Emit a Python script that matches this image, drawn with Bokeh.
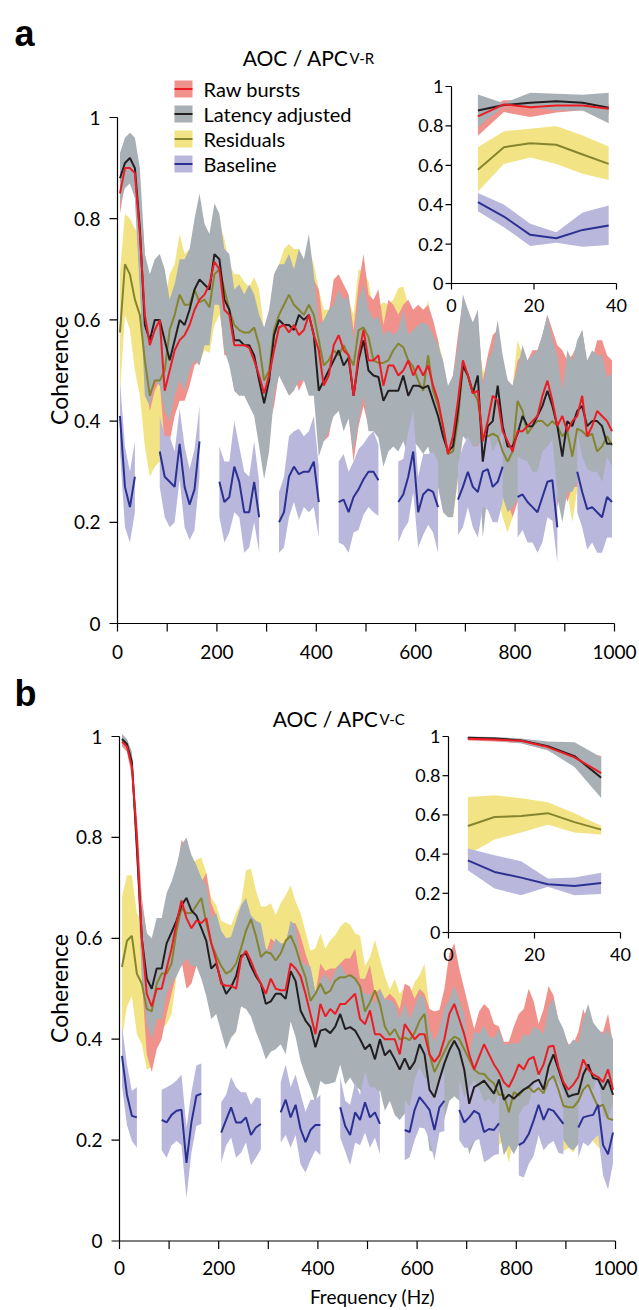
import numpy as np
from bokeh.plotting import figure
from bokeh.layouts import column
from bokeh.models import Range1d, Label
from bokeh.embed import file_html
from bokeh.resources import INLINE
from bokeh.core.properties import value

# ---------------- data ----------------
FREQ = np.arange(5, 1000, 10)  # Hz grid of the spectra

XTICKS = [0, 200, 400, 600, 800, 1000]
XLABELS = ["0", "200", "400", "600", "800", "1000"]
XMINOR = [100, 300, 500, 700, 900]
YTICKS = [0, 0.2, 0.4, 0.6, 0.8, 1]
YLABELS = ["0", "0.2", "0.4", "0.6", "0.8", "1"]
INSET_XTICKS = [0, 20, 40]
INSET_XLABELS = ["0", "20", "40"]

SERIES = ["Raw bursts", "Latency adjusted", "Residuals", "Baseline"]

# ---- panel a : AOC / APC V-R ----
A_RAW = [0.85, 0.90, 0.90, 0.89, 0.77, 0.61, 0.55, 0.58, 0.60, 0.46,
         0.50, 0.54, 0.56, 0.57, 0.59, 0.62, 0.64, 0.65, 0.67, 0.715,
         0.70, 0.62, 0.61, 0.55, 0.55, 0.55, 0.545, 0.52, 0.49, 0.455,
         0.49, 0.54, 0.585, 0.59, 0.575, 0.59, 0.57, 0.58, 0.61, 0.57,
         0.54, 0.47, 0.49, 0.55, 0.57, 0.54, 0.53, 0.45, 0.53, 0.58,
         0.52, 0.52, 0.53, 0.47, 0.51, 0.51, 0.49, 0.50, 0.52, 0.49,
         0.51, 0.49, 0.51, 0.47, 0.44, 0.39, 0.335, 0.37, 0.44, 0.52,
         0.49, 0.455, 0.46, 0.36, 0.40, 0.45, 0.44, 0.38, 0.36, 0.34,
         0.38, 0.38, 0.39, 0.40, 0.41, 0.45, 0.48, 0.44, 0.39, 0.41,
         0.38, 0.40, 0.41, 0.45, 0.37, 0.39, 0.42, 0.41, 0.40, 0.38]
A_RAW_ERR = [0.04, 0.03, 0.03, 0.04, 0.10, 0.12, 0.13, 0.12, 0.12, 0.11,
             0.14, 0.13, 0.12, 0.13, 0.12, 0.11, 0.12, 0.10, 0.09, 0.08,
             0.07, 0.09, 0.08, 0.09, 0.10, 0.09, 0.10, 0.09, 0.11, 0.10,
             0.10, 0.11, 0.09, 0.10, 0.11, 0.10, 0.11, 0.10, 0.12, 0.11,
             0.12, 0.11, 0.12, 0.13, 0.12, 0.13, 0.12, 0.13, 0.14, 0.15,
             0.13, 0.12, 0.13, 0.12, 0.13, 0.12, 0.12, 0.13, 0.12, 0.13,
             0.12, 0.13, 0.12, 0.13, 0.12, 0.11, 0.11, 0.12, 0.13, 0.12,
             0.13, 0.12, 0.14, 0.12, 0.13, 0.12, 0.14, 0.13, 0.12, 0.13,
             0.14, 0.15, 0.13, 0.14, 0.13, 0.12, 0.13, 0.14, 0.16, 0.13,
             0.14, 0.13, 0.14, 0.13, 0.14, 0.13, 0.14, 0.15, 0.13, 0.14]
A_LAT = [0.88, 0.91, 0.92, 0.90, 0.78, 0.59, 0.56, 0.60, 0.60, 0.56,
         0.52, 0.56, 0.60, 0.59, 0.62, 0.66, 0.68, 0.67, 0.66, 0.73,
         0.72, 0.64, 0.62, 0.56, 0.56, 0.55, 0.55, 0.53, 0.48, 0.435,
         0.48, 0.57, 0.60, 0.59, 0.59, 0.58, 0.61, 0.60, 0.61, 0.57,
         0.46, 0.48, 0.50, 0.52, 0.54, 0.51, 0.525, 0.45, 0.52, 0.56,
         0.50, 0.49, 0.487, 0.44, 0.46, 0.46, 0.46, 0.49, 0.45, 0.47,
         0.47, 0.465, 0.47, 0.44, 0.41, 0.37, 0.34, 0.35, 0.42, 0.51,
         0.49, 0.455, 0.49, 0.32, 0.39, 0.40, 0.47, 0.39, 0.35, 0.35,
         0.375, 0.41, 0.39, 0.39, 0.41, 0.43, 0.46, 0.43, 0.39, 0.33,
         0.40, 0.39, 0.42, 0.43, 0.39, 0.40, 0.40, 0.39, 0.355, 0.355]
A_LAT_ERR = [0.05, 0.05, 0.05, 0.06, 0.12, 0.14, 0.13, 0.12, 0.13, 0.14,
             0.12, 0.11, 0.12, 0.13, 0.12, 0.14, 0.17, 0.12, 0.11, 0.10,
             0.09, 0.10, 0.11, 0.10, 0.11, 0.10, 0.12, 0.12, 0.13, 0.15,
             0.14, 0.12, 0.11, 0.12, 0.14, 0.12, 0.13, 0.12, 0.16, 0.12,
             0.13, 0.12, 0.12, 0.11, 0.12, 0.13, 0.12, 0.11, 0.12, 0.11,
             0.12, 0.11, 0.12, 0.13, 0.12, 0.11, 0.12, 0.13, 0.12, 0.11,
             0.12, 0.13, 0.12, 0.13, 0.14, 0.15, 0.13, 0.14, 0.13, 0.14,
             0.13, 0.14, 0.13, 0.15, 0.13, 0.14, 0.13, 0.14, 0.13, 0.12,
             0.13, 0.14, 0.13, 0.14, 0.13, 0.14, 0.15, 0.13, 0.14, 0.13,
             0.14, 0.13, 0.14, 0.15, 0.13, 0.14, 0.13, 0.14, 0.13, 0.14]
A_RES = [0.575, 0.71, 0.69, 0.64, 0.61, 0.52, 0.45, 0.48, 0.48, 0.50,
         0.58, 0.61, 0.65, 0.63, 0.63, 0.66, 0.635, 0.64, 0.625, 0.69,
         0.70, 0.66, 0.62, 0.59, 0.58, 0.575, 0.575, 0.585, 0.55, 0.48,
         0.50, 0.58, 0.61, 0.63, 0.65, 0.63, 0.62, 0.61, 0.63, 0.61,
         0.56, 0.51, 0.52, 0.54, 0.53, 0.55, 0.53, 0.51, 0.58, 0.585,
         0.566, 0.52, 0.515, 0.515, 0.52, 0.54, 0.553, 0.546, 0.52, 0.507,
         0.48, 0.46, 0.53, 0.46, 0.43, 0.39, 0.335, 0.34, 0.40, 0.51,
         0.49, 0.46, 0.44, 0.37, 0.37, 0.375, 0.37, 0.34, 0.32, 0.34,
         0.44, 0.42, 0.375, 0.39, 0.40, 0.40, 0.39, 0.40, 0.39, 0.37,
         0.38, 0.33, 0.385, 0.38, 0.37, 0.375, 0.34, 0.35, 0.37, 0.352]
A_RES_ERR = [0.12, 0.10, 0.11, 0.14, 0.16, 0.17, 0.16, 0.17, 0.16, 0.14,
             0.11, 0.10, 0.12, 0.10, 0.11, 0.10, 0.12, 0.10, 0.09, 0.10,
             0.09, 0.10, 0.09, 0.10, 0.11, 0.10, 0.09, 0.10, 0.11, 0.10,
             0.10, 0.11, 0.10, 0.11, 0.10, 0.11, 0.12, 0.10, 0.11, 0.10,
             0.10, 0.11, 0.10, 0.12, 0.11, 0.10, 0.11, 0.10, 0.12, 0.11,
             0.11, 0.10, 0.11, 0.12, 0.11, 0.10, 0.11, 0.12, 0.11, 0.10,
             0.11, 0.12, 0.11, 0.12, 0.13, 0.13, 0.12, 0.13, 0.12, 0.13,
             0.12, 0.11, 0.12, 0.13, 0.12, 0.11, 0.12, 0.13, 0.14, 0.13,
             0.12, 0.11, 0.12, 0.11, 0.12, 0.11, 0.12, 0.11, 0.12, 0.11,
             0.12, 0.13, 0.12, 0.11, 0.12, 0.11, 0.12, 0.13, 0.12, 0.11]
A_BASE = [0.41, 0.27, 0.23, 0.29, None, None, None, None, 0.34, 0.29,
          0.28, 0.27, 0.355, 0.27, 0.235, 0.265, 0.36, None, None, None,
          0.28, 0.24, 0.25, 0.31, 0.28, 0.22, 0.22, 0.28, 0.21, None,
          None, None, 0.20, 0.22, 0.29, 0.31, 0.295, 0.30, 0.30, 0.32,
          0.24, None, None, None, 0.24, 0.245, 0.22, 0.25, 0.265, 0.285,
          0.30, 0.30, 0.283, None, None, None, 0.24, 0.255, 0.29, 0.34,
          0.22, 0.255, 0.265, 0.26, 0.23, None, None, None, 0.245, 0.27,
          0.30, 0.27, 0.26, 0.30, 0.305, 0.27, 0.28, 0.31, None, None,
          0.25, 0.255, 0.24, 0.23, 0.22, 0.25, 0.28, 0.283, 0.19, None,
          None, None, 0.30, 0.26, 0.226, 0.23, 0.22, 0.21, 0.25, 0.24]
A_BASE_ERR = [0.07, 0.08, 0.07, 0.07, 0.07, 0.07, 0.07, 0.07, 0.07, 0.08,
              0.09, 0.07, 0.07, 0.08, 0.07, 0.08, 0.07, 0.07, 0.07, 0.07,
              0.07, 0.08, 0.07, 0.09, 0.07, 0.08, 0.07, 0.08, 0.07, 0.07,
              0.07, 0.07, 0.06, 0.07, 0.08, 0.07, 0.09, 0.07, 0.08, 0.09,
              0.07, 0.07, 0.07, 0.07, 0.08, 0.09, 0.08, 0.07, 0.08, 0.07,
              0.07, 0.08, 0.07, 0.07, 0.07, 0.07, 0.08, 0.07, 0.09, 0.08,
              0.07, 0.08, 0.07, 0.08, 0.09, 0.07, 0.07, 0.07, 0.07, 0.08,
              0.07, 0.08, 0.09, 0.07, 0.08, 0.07, 0.08, 0.07, 0.07, 0.07,
              0.08, 0.07, 0.08, 0.07, 0.08, 0.09, 0.07, 0.08, 0.07, 0.07,
              0.07, 0.07, 0.08, 0.07, 0.08, 0.07, 0.08, 0.07, 0.08, 0.07]
# inset a (0-40 Hz)
IA_F = [6.4, 12.7, 19.1, 25.4, 31.8, 38.1]
IA_RAW = [0.848, 0.909, 0.895, 0.904, 0.904, 0.887]
IA_RAW_LO = [0.75, 0.87, 0.845, 0.868, 0.88, 0.86]
IA_RAW_HI = [0.87, 0.93, 0.93, 0.93, 0.93, 0.91]
IA_LAT = [0.878, 0.906, 0.917, 0.925, 0.917, 0.892]
IA_LAT_LO = [0.794, 0.90, 0.895, 0.878, 0.878, 0.814]
IA_LAT_HI = [0.96, 0.915, 0.968, 0.963, 0.958, 0.968]
IA_RES = [0.577, 0.692, 0.712, 0.704, 0.655, 0.607]
IA_RES_LO = [0.467, 0.607, 0.64, 0.607, 0.557, 0.526]
IA_RES_HI = [0.692, 0.773, 0.785, 0.799, 0.751, 0.696]
IA_BASE = [0.413, 0.34, 0.247, 0.23, 0.272, 0.294]
IA_BASE_LO = [0.367, 0.286, 0.19, 0.207, 0.187, 0.195]
IA_BASE_HI = [0.46, 0.401, 0.303, 0.26, 0.36, 0.396]

# ---- panel b : AOC / APC V-C ----
B_RAW = [0.99, 0.98, 0.94, 0.80, 0.60, 0.49, 0.465, 0.50, 0.50, 0.54,
         0.58, 0.63, 0.675, 0.64, 0.62, 0.635, 0.63, 0.64, 0.59, 0.555,
         0.51, 0.506, 0.506, 0.50, 0.56, 0.575, 0.555, 0.53, 0.51, 0.49,
         0.52, 0.50, 0.497, 0.497, 0.55, 0.54, 0.525, 0.49, 0.45, 0.41,
         0.47, 0.445, 0.46, 0.45, 0.47, 0.47, 0.48, 0.49, 0.44, 0.43,
         0.457, 0.41, 0.41, 0.40, 0.40, 0.40, 0.37, 0.43, 0.415, 0.40,
         0.41, 0.41, 0.37, 0.355, 0.368, 0.40, 0.45, 0.47, 0.44, 0.41,
         0.37, 0.34, 0.365, 0.39, 0.37, 0.35, 0.335, 0.315, 0.305, 0.325,
         0.35, 0.34, 0.36, 0.365, 0.33, 0.35, 0.385, 0.387, 0.345, 0.315,
         0.30, 0.31, 0.325, 0.36, 0.34, 0.33, 0.325, 0.315, 0.34, 0.30]
B_RAW_ERR = [0.01, 0.01, 0.02, 0.04, 0.08, 0.12, 0.13, 0.12, 0.10, 0.09,
             0.09, 0.10, 0.12, 0.14, 0.11, 0.09, 0.08, 0.09, 0.08, 0.09,
             0.08, 0.09, 0.08, 0.08, 0.09, 0.08, 0.07, 0.08, 0.09, 0.08,
             0.08, 0.09, 0.08, 0.09, 0.08, 0.09, 0.08, 0.08, 0.09, 0.08,
             0.08, 0.09, 0.08, 0.09, 0.08, 0.09, 0.08, 0.09, 0.08, 0.09,
             0.09, 0.08, 0.09, 0.08, 0.09, 0.08, 0.09, 0.08, 0.09, 0.08,
             0.09, 0.08, 0.09, 0.10, 0.09, 0.10, 0.12, 0.12, 0.10, 0.09,
             0.09, 0.08, 0.09, 0.08, 0.09, 0.08, 0.09, 0.08, 0.09, 0.10,
             0.10, 0.12, 0.14, 0.11, 0.10, 0.11, 0.12, 0.10, 0.09, 0.10,
             0.09, 0.08, 0.09, 0.10, 0.09, 0.08, 0.09, 0.10, 0.11, 0.09]
B_LAT = [0.995, 0.985, 0.95, 0.78, 0.60, 0.52, 0.50, 0.54, 0.54, 0.59,
         0.612, 0.635, 0.665, 0.68, 0.655, 0.645, 0.62, 0.595, 0.54, 0.55,
         0.515, 0.49, 0.503, 0.525, 0.565, 0.57, 0.545, 0.525, 0.51, 0.47,
         0.475, 0.49, 0.49, 0.48, 0.535, 0.515, 0.457, 0.437, 0.424, 0.384,
         0.417, 0.42, 0.412, 0.425, 0.45, 0.42, 0.424, 0.417, 0.40, 0.38,
         0.39, 0.36, 0.40, 0.368, 0.378, 0.36, 0.34, 0.362, 0.34, 0.355,
         0.39, 0.37, 0.30, 0.285, 0.32, 0.352, 0.378, 0.397, 0.378, 0.34,
         0.272, 0.305, 0.311, 0.318, 0.305, 0.292, 0.32, 0.28, 0.29, 0.282,
         0.292, 0.30, 0.306, 0.315, 0.32, 0.30, 0.345, 0.37, 0.34, 0.31,
         0.286, 0.29, 0.292, 0.33, 0.35, 0.323, 0.32, 0.30, 0.32, 0.29]
B_LAT_ERR = [0.01, 0.01, 0.02, 0.04, 0.07, 0.09, 0.10, 0.10, 0.10, 0.10,
             0.10, 0.11, 0.12, 0.12, 0.11, 0.10, 0.10, 0.11, 0.10, 0.10,
             0.10, 0.11, 0.10, 0.11, 0.10, 0.11, 0.10, 0.11, 0.12, 0.11,
             0.10, 0.11, 0.10, 0.11, 0.10, 0.11, 0.10, 0.11, 0.12, 0.11,
             0.10, 0.11, 0.10, 0.11, 0.10, 0.11, 0.10, 0.11, 0.10, 0.11,
             0.10, 0.11, 0.10, 0.11, 0.10, 0.11, 0.10, 0.11, 0.10, 0.11,
             0.10, 0.11, 0.12, 0.11, 0.10, 0.11, 0.10, 0.11, 0.10, 0.11,
             0.10, 0.11, 0.10, 0.11, 0.10, 0.11, 0.10, 0.11, 0.10, 0.11,
             0.10, 0.11, 0.10, 0.11, 0.10, 0.11, 0.12, 0.11, 0.10, 0.11,
             0.10, 0.11, 0.10, 0.11, 0.12, 0.11, 0.10, 0.11, 0.10, 0.11]
B_RES = [0.543, 0.595, 0.605, 0.53, 0.51, 0.46, 0.455, 0.51, 0.53, 0.53,
         0.55, 0.615, 0.66, 0.65, 0.65, 0.665, 0.68, 0.63, 0.59, 0.566,
         0.545, 0.53, 0.536, 0.55, 0.58, 0.615, 0.638, 0.605, 0.563, 0.573,
         0.57, 0.556, 0.57, 0.595, 0.605, 0.583, 0.55, 0.523, 0.476, 0.49,
         0.51, 0.49, 0.496, 0.516, 0.523, 0.523, 0.527, 0.52, 0.505, 0.455,
         0.473, 0.497, 0.47, 0.425, 0.408, 0.42, 0.40, 0.403, 0.398, 0.413,
         0.437, 0.45, 0.37, 0.335, 0.355, 0.375, 0.395, 0.405, 0.40, 0.38,
         0.36, 0.34, 0.332, 0.331, 0.32, 0.312, 0.29, 0.29, 0.255, 0.295,
         0.288, 0.30, 0.305, 0.295, 0.303, 0.293, 0.318, 0.327, 0.30, 0.268,
         0.265, 0.265, 0.277, 0.30, 0.31, 0.287, 0.266, 0.27, 0.243, 0.24]
B_RES_ERR = [0.14, 0.13, 0.12, 0.12, 0.12, 0.12, 0.11, 0.12, 0.11, 0.10,
             0.10, 0.09, 0.10, 0.09, 0.10, 0.09, 0.08, 0.10, 0.09, 0.10,
             0.09, 0.10, 0.09, 0.10, 0.09, 0.12, 0.10, 0.09, 0.10, 0.09,
             0.10, 0.09, 0.10, 0.09, 0.10, 0.09, 0.10, 0.09, 0.10, 0.09,
             0.10, 0.09, 0.10, 0.09, 0.10, 0.11, 0.10, 0.09, 0.10, 0.09,
             0.09, 0.10, 0.09, 0.10, 0.09, 0.10, 0.09, 0.10, 0.09, 0.10,
             0.09, 0.10, 0.09, 0.08, 0.09, 0.08, 0.09, 0.08, 0.09, 0.08,
             0.09, 0.08, 0.09, 0.08, 0.09, 0.08, 0.10, 0.09, 0.10, 0.09,
             0.08, 0.09, 0.08, 0.09, 0.08, 0.09, 0.08, 0.09, 0.08, 0.09,
             0.08, 0.09, 0.08, 0.09, 0.08, 0.09, 0.08, 0.09, 0.08, 0.09]
B_BASE = [0.367, 0.29, 0.248, 0.245, None, None, None, None, 0.24, 0.235,
          0.25, 0.258, 0.26, 0.155, 0.235, 0.288, 0.292, None, None, None,
          0.215, 0.24, 0.265, 0.235, 0.235, 0.245, 0.21, 0.225, 0.232, None,
          None, None, 0.255, 0.28, 0.245, 0.27, 0.222, 0.196, 0.22, 0.23,
          0.23, None, None, None, 0.265, 0.228, 0.21, 0.255, 0.24, 0.275,
          0.245, 0.255, 0.232, None, None, None, None, 0.22, 0.216, 0.26,
          0.285, 0.273, 0.26, 0.22, 0.265, 0.278, None, None, 0.26, 0.235,
          0.245, 0.258, 0.252, 0.216, 0.222, 0.22, 0.233, None, None, None,
          0.19, 0.196, 0.212, 0.239, 0.27, 0.24, 0.262, 0.258, 0.245, 0.232,
          None, None, 0.225, 0.245, 0.248, 0.25, 0.27, 0.19, 0.172, 0.215]
B_BASE_ERR = [0.06, 0.06, 0.05, 0.06, 0.06, 0.06, 0.06, 0.06, 0.06, 0.07,
              0.06, 0.06, 0.07, 0.07, 0.06, 0.06, 0.06, 0.06, 0.06, 0.06,
              0.06, 0.05, 0.06, 0.07, 0.06, 0.05, 0.06, 0.06, 0.05, 0.06,
              0.06, 0.06, 0.06, 0.07, 0.06, 0.06, 0.07, 0.06, 0.06, 0.05,
              0.06, 0.06, 0.06, 0.06, 0.06, 0.05, 0.06, 0.06, 0.05, 0.06,
              0.06, 0.05, 0.06, 0.06, 0.06, 0.06, 0.06, 0.06, 0.05, 0.06,
              0.06, 0.05, 0.06, 0.06, 0.05, 0.06, 0.06, 0.06, 0.06, 0.05,
              0.06, 0.06, 0.05, 0.06, 0.06, 0.05, 0.06, 0.06, 0.06, 0.06,
              0.06, 0.07, 0.06, 0.07, 0.06, 0.06, 0.07, 0.06, 0.07, 0.06,
              0.06, 0.06, 0.06, 0.05, 0.06, 0.05, 0.06, 0.06, 0.07, 0.06]
# inset b (0-40 Hz)
IB_F = [4.5, 10.7, 16.9, 23.1, 29.3, 35.5]
IB_RAW = [0.988, 0.985, 0.978, 0.946, 0.894, 0.813]
IB_RAW_LO = [0.98, 0.975, 0.965, 0.93, 0.86, 0.74]
IB_RAW_HI = [0.995, 0.99, 0.985, 0.96, 0.93, 0.90]
IB_LAT = [0.993, 0.99, 0.98, 0.951, 0.90, 0.79]
IB_LAT_LO = [0.985, 0.98, 0.965, 0.93, 0.844, 0.686]
IB_LAT_HI = [1.0, 0.998, 0.99, 0.975, 0.971, 0.894]
IB_RES = [0.543, 0.589, 0.594, 0.609, 0.563, 0.525]
IB_RES_LO = [0.397, 0.475, 0.51, 0.55, 0.51, 0.50]
IB_RES_HI = [0.691, 0.70, 0.685, 0.665, 0.609, 0.545]
IB_BASE = [0.368, 0.309, 0.28, 0.246, 0.237, 0.253]
IB_BASE_LO = [0.317, 0.224, 0.19, 0.233, 0.19, 0.197]
IB_BASE_HI = [0.428, 0.394, 0.363, 0.275, 0.28, 0.305]

# ---------------- style ----------------
FONT = "Lato"
BAND = {"Raw bursts": "#f0918c", "Latency adjusted": "#a8afb5",
        "Residuals": "#f2e484", "Baseline": "#bab7dd"}
LINE = {"Raw bursts": "#ec1c24", "Latency adjusted": "#231f20",
        "Residuals": "#85852f", "Baseline": "#2b3192"}
BAND_ORDER = ["Residuals", "Raw bursts", "Latency adjusted", "Baseline"]
LINE_ORDER = ["Residuals", "Latency adjusted", "Raw bursts", "Baseline"]
AX = dict(line_color="black", line_width=1.2)


def runs(mask):
    out, start = [], None
    for i, m in enumerate(mask):
        if m and start is None:
            start = i
        if not m and start is not None:
            out.append((start, i))
            start = None
    if start is not None:
        out.append((start, len(mask)))
    return out


def arr(v):
    return np.array([np.nan if a is None else a for a in v], dtype=float)


def draw_axes(p, xt, xl, yt, yl, sx, sy, tick, ygap, xgap, fs, xminor=(), rn=None):
    rn = rn or {}
    n = len(yt)
    p.segment(x0=[xt[0], xt[0]], y0=[yt[0], yt[0]], x1=[xt[0], xt[-1]],
              y1=[yt[-1], yt[0]], **AX, **rn)
    p.segment(x0=[xt[0]] * n, y0=yt, x1=[xt[0] - tick / sx] * n, y1=yt, **AX, **rn)
    allx = list(xt) + list(xminor)
    p.segment(x0=allx, y0=[yt[0]] * len(allx), x1=allx,
              y1=[yt[0] - tick / sy] * len(allx), **AX, **rn)
    p.text(x=[xt[0] - ygap / sx] * n, y=yt, text=yl, text_align="right",
           text_baseline="middle", text_font=value(FONT), text_font_size=fs,
           text_color="black", **rn)
    p.text(x=xt, y=[yt[0] - xgap / sy] * len(xt), text=xl, text_align="center",
           text_baseline="middle", text_font=value(FONT), text_font_size=fs,
           text_color="black", **rn)


def panel(main, inset, g, letter, title, sub, legend=False, xlabel=None):
    left, right, top, bottom = g["page"]

    def px2x(px):
        return (px - g["x0"]) / g["sx"]

    def py2y(py):
        return (g["y0"] - py) / g["sy"]

    p = figure(frame_width=right - left, frame_height=bottom - top,
               x_range=Range1d(px2x(left), px2x(right)),
               y_range=Range1d(py2y(bottom), py2y(top)),
               x_axis_type=None, y_axis_type=None,
               min_border=0, min_border_left=0, min_border_right=0,
               min_border_top=0, min_border_bottom=0,
               output_backend="svg", toolbar_location=None,
               outline_line_color=None, background_fill_color="white",
               border_fill_color="white")
    p.xgrid.visible = False
    p.ygrid.visible = False

    # inset ranges mapped to the inset pixel box
    isx = (g["ix1"] - g["ix0"]) / INSET_XTICKS[-1]
    isy = (g["iy0"] - g["iy1"]) / YTICKS[-1]
    p.extra_x_ranges = {"ix": Range1d((left - g["ix0"]) / isx, (right - g["ix0"]) / isx)}
    p.extra_y_ranges = {"iy": Range1d((g["iy0"] - bottom) / isy, (g["iy0"] - top) / isy)}
    irn = dict(x_range_name="ix", y_range_name="iy")

    # main bands and lines
    for name in BAND_ORDER:
        m, e = main[name]
        m = arr(m)
        e = np.array(e, dtype=float)
        lo, hi = m - e, m + e
        for a, b in runs(np.isfinite(m)):
            p.varea(x=FREQ[a:b], y1=lo[a:b], y2=hi[a:b], fill_color=BAND[name])
    for name in LINE_ORDER:
        p.line(FREQ, arr(main[name][0]), line_color=LINE[name], line_width=2)

    # inset
    f = inset["f"]
    for name in BAND_ORDER:
        _, lo, hi = inset[name]
        p.varea(x=f, y1=lo, y2=hi, fill_color=BAND[name], **irn)
    for name in LINE_ORDER:
        p.line(f, inset[name][0], line_color=LINE[name], line_width=2, **irn)

    draw_axes(p, XTICKS, XLABELS, YTICKS, YLABELS, g["sx"], g["sy"], 8, 17,
              g["xgap"], "19px", xminor=XMINOR)
    draw_axes(p, INSET_XTICKS, INSET_XLABELS, YTICKS, YLABELS, isx, isy, 6,
              8, 22, "18px", rn=irn)

    # texts
    p.add_layout(Label(x=px2x(g["letter"][0]), y=py2y(g["letter"][1]), text=letter,
                       text_font="Liberation Sans", text_font_style="bold",
                       text_font_size="36px", text_color="black",
                       text_baseline="alphabetic"))
    p.add_layout(Label(x=px2x(g["title"][0]), y=py2y(g["title"][1]), text=title,
                       text_font=FONT, text_font_size="21px", text_color="black",
                       text_align="right", text_baseline="alphabetic"))
    p.add_layout(Label(x=px2x(g["title"][0] + 1), y=py2y(g["title"][1]), text=sub,
                       text_font=FONT, text_font_size="15px", text_color="black",
                       text_align="left", text_baseline="alphabetic"))
    p.add_layout(Label(x=px2x(g["ylab"][0]), y=py2y(g["ylab"][1]), text="Coherence",
                       angle=np.pi / 2, text_font=FONT, text_font_size="23px",
                       text_color="black", text_align="center",
                       text_baseline="middle"))
    if xlabel:
        p.add_layout(Label(x=px2x(g["xlab"][0]), y=py2y(g["xlab"][1]), text=xlabel,
                           text_font=FONT, text_font_size="19px",
                           text_color="black", text_align="center",
                           text_baseline="middle"))
    if legend:
        lx, ly, step, gw, gh, gap = g["legend"]
        rows_y = [py2y(ly + i * step) for i in range(len(SERIES))]
        cx = px2x(lx + gw / 2)
        p.rect(x=[cx] * len(SERIES), y=rows_y, width=gw / g["sx"], height=gh / g["sy"],
               fill_color=[BAND[n] for n in SERIES], line_color=None)
        p.segment(x0=[px2x(lx)] * len(SERIES), y0=rows_y,
                  x1=[px2x(lx + gw)] * len(SERIES), y1=rows_y,
                  line_color=[LINE[n] for n in SERIES], line_width=2)
        p.text(x=[px2x(lx + gw + gap)] * len(SERIES), y=rows_y, text=SERIES,
               text_align="left", text_baseline="middle", text_font=value(FONT),
               text_font_size="20px", text_color="black")
    return p


main_a = {"Raw bursts": (A_RAW, A_RAW_ERR), "Latency adjusted": (A_LAT, A_LAT_ERR),
          "Residuals": (A_RES, A_RES_ERR), "Baseline": (A_BASE, A_BASE_ERR)}
inset_a = {"f": IA_F, "Raw bursts": (IA_RAW, IA_RAW_LO, IA_RAW_HI),
           "Latency adjusted": (IA_LAT, IA_LAT_LO, IA_LAT_HI),
           "Residuals": (IA_RES, IA_RES_LO, IA_RES_HI),
           "Baseline": (IA_BASE, IA_BASE_LO, IA_BASE_HI)}
main_b = {"Raw bursts": (B_RAW, B_RAW_ERR), "Latency adjusted": (B_LAT, B_LAT_ERR),
          "Residuals": (B_RES, B_RES_ERR), "Baseline": (B_BASE, B_BASE_ERR)}
inset_b = {"f": IB_F, "Raw bursts": (IB_RAW, IB_RAW_LO, IB_RAW_HI),
           "Latency adjusted": (IB_LAT, IB_LAT_LO, IB_LAT_HI),
           "Residuals": (IB_RES, IB_RES_LO, IB_RES_HI),
           "Baseline": (IB_BASE, IB_BASE_LO, IB_BASE_HI)}

# layout geometry (page pixels): canvas box, main axes origin/scale, inset box
GEO_A = dict(page=(0, 639, 0, 666), x0=117, y0=623, sx=0.497, sy=506,
             ix0=451, ix1=616, iy0=283, iy1=86, xgap=28,
             letter=(14, 33), title=(348, 57), ylab=(58, 370),
             legend=(174, 88.5, 25, 18, 17, 11))
GEO_B = dict(page=(0, 639, 666, 1310), x0=119, y0=1240.5, sx=0.496, sy=504.5,
             ix0=448, ix1=620, iy0=932, iy1=736, xgap=27,
             letter=(14, 693), title=(378, 718), ylab=(58, 988), xlab=(372, 1296))

pa = panel(main_a, inset_a, GEO_A, "a", "AOC / APC", "V-R", legend=True)
pb = panel(main_b, inset_b, GEO_B, "b", "AOC / APC", "V-C", xlabel="Frequency (Hz)")

layout = column(pa, pb, spacing=0)
open("out.html", "w").write(file_html(layout, INLINE))
